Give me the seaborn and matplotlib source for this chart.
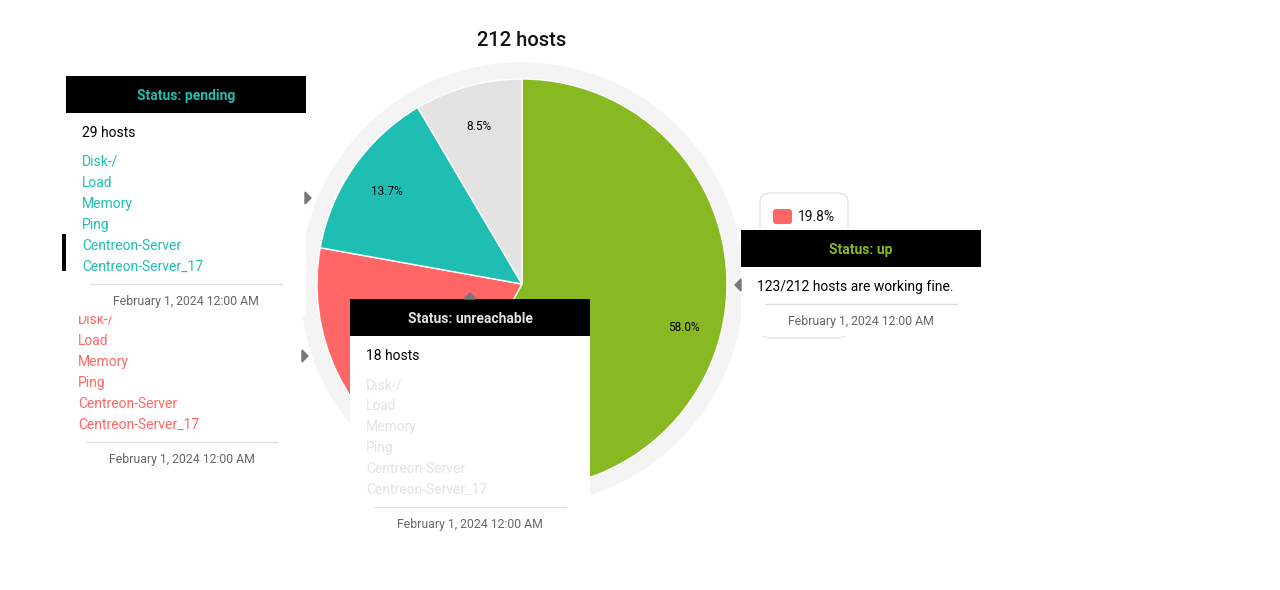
import matplotlib
matplotlib.use("Agg")
import matplotlib.pyplot as plt
from matplotlib.patches import Rectangle, Circle, Polygon, FancyBboxPatch
import seaborn as sns

# data
statuses = ["up", "down", "pending", "unreachable"]
host_counts = [123, 42, 29, 18]
status_colors = ["#88b922", "#ff6666", "#1ebeb3", "#e3e3e3"]
services = ["Disk-/", "Load", "Memory", "Ping", "Centreon-Server", "Centreon-Server_17"]
timestamp = "February 1, 2024 12:00 AM"
total_hosts = sum(host_counts)

sns.set_theme(style="white")
plt.rcParams["font.family"] = ["Roboto", "DejaVu Sans"]

fig = plt.figure(figsize=(12.8, 5.9), dpi=100)
ax = fig.add_axes([0, 0, 1, 1])

# pie, in pixel coords (y axis inverted below)
cx, cy, r = 522, 284, 205
ax.add_patch(Circle((cx, cy), 221, color="#f4f4f4", zorder=0))
wedges, texts, autotexts = ax.pie(
    host_counts, colors=status_colors, startangle=-90, counterclock=True,
    center=(cx, cy), radius=r, autopct="%.1f%%", pctdistance=0.81, frame=True,
    wedgeprops=dict(edgecolor="white", linewidth=1.0),
    textprops=dict(fontsize=8.5, color="black"))
for t in autotexts:
    px, py = t.get_position()
    t.set_position((px + 1, py + 2.5))
# the "down" label sits under the unreachable tooltip in the reference
autotexts[1].set_visible(False)
ax.set_xlim(0, 1280)
ax.set_ylim(590, 0)
ax.axis("off")

ax.text(cx, 41, f"{total_hosts} hosts", ha="center", va="center",
        fontsize=14.5, fontweight="medium", color="#111111")


def tooltip(left, top, i, first_line, items, z, w=240, covered=False):
    color = status_colors[i]
    y_end = top + 56 + 29 + 21 * (len(items) - 1) if items else top + 56
    sep_y = y_end + 18
    bottom = sep_y + 32
    ax.add_patch(Rectangle((left, top), w, bottom - top, facecolor="white",
                           edgecolor="none", zorder=z))
    ax.add_patch(Rectangle((left, top), w, 37, facecolor="black",
                           edgecolor="none", zorder=z))
    if not covered:
        ax.text(left + w / 2, top + 20, f"Status: {statuses[i]}", color=color,
                fontsize=10, fontweight="bold", ha="center", va="center", zorder=z + 0.5)
        ax.text(left + 16, top + 57, first_line, color="black", fontsize=10,
                ha="left", va="center", zorder=z + 0.5)
    for k, item in enumerate(items):
        ax.text(left + 16, top + 86 + 21 * k, item, color=color, fontsize=10,
                ha="left", va="center", zorder=z + 0.5)
    ax.plot([left + 24, left + w - 24], [sep_y, sep_y], color="#dddddd",
            lw=1, zorder=z + 0.5)
    ax.text(left + w / 2, sep_y + 17.5, timestamp, color="#666666", fontsize=8.8,
            ha="center", va="center", zorder=z + 0.5)


# down (behind), pending, unreachable
tooltip(62, 234, 1, f"{host_counts[1]} hosts", services, 10, covered=True)
ax.add_patch(Polygon([(302, 350), (302, 362), (308, 356)], color="#777777", zorder=10.5))
tooltip(66, 76, 2, f"{host_counts[2]} hosts", services, 12)
ax.add_patch(Polygon([(305, 192), (305, 204), (311, 198)], color="#777777", zorder=12.5))
tooltip(350, 299, 3, f"{host_counts[3]} hosts", services, 14)
ax.add_patch(Polygon([(464, 299), (476, 299), (470, 293)], color="#777777", zorder=14.5))

# small hover box behind the "up" tooltip
ax.add_patch(FancyBboxPatch((760, 193), 88, 145, boxstyle="round,pad=0,rounding_size=10",
                            facecolor="white", edgecolor="#e6e6e6", lw=1, zorder=16))
ax.add_patch(FancyBboxPatch((773, 209), 19, 15, boxstyle="round,pad=0,rounding_size=3",
                            facecolor=status_colors[1], edgecolor="none", zorder=16.5))
ax.text(798, 217, f"{host_counts[1] / total_hosts * 100:.1f}%", fontsize=10,
        color="#111111", ha="left", va="center", zorder=16.5)

tooltip(741, 230, 0, f"{host_counts[0]}/{total_hosts} hosts are working fine.", [], 18)
ax.add_patch(Polygon([(741, 279), (741, 291), (735, 285)], color="#777777", zorder=18.5))

fig.savefig("out.png", dpi=100, facecolor="white")
